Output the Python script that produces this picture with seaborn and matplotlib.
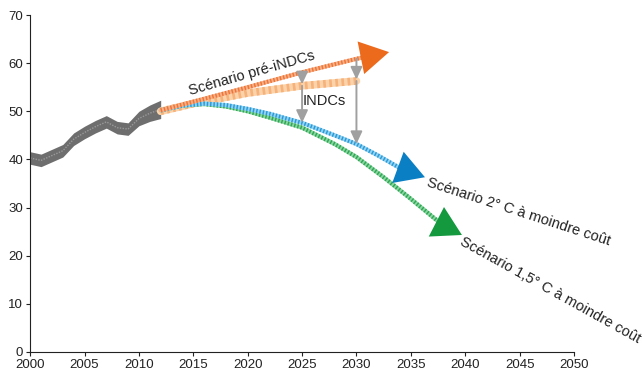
import numpy as np
import pandas as pd
import matplotlib.pyplot as plt
import seaborn as sns

sns.set_theme(style="ticks")
plt.rcParams['font.family'] = ['Liberation Sans', 'DejaVu Sans']

# historique
hist_years = list(range(2000, 2013))
hist_vals = [40.3, 39.8, 40.8, 41.8, 44.2, 45.6, 46.8, 47.8, 46.6, 46.3, 48.5, 49.6, 50.4]
hist_half_width = [1.3, 1.3, 1.3, 1.3, 1.3, 1.3, 1.3, 1.3, 1.3, 1.3, 1.5, 1.7, 1.9]

# scénarios (dernier point = pointe de la flèche)
pre_years = [2012, 2015, 2020, 2025, 2030, 2030.8, 2033.0]
pre_vals = [50.2, 52.0, 55.0, 58.1, 60.9, 61.3, 62.3]

indc_years = [2012, 2015, 2020, 2025, 2030]
indc_vals = [50.0, 51.6, 53.8, 55.3, 56.3]

c2_years = [2012, 2014, 2016, 2018, 2020, 2022, 2025, 2028, 2030, 2032, 2034.0, 2036.3]
c2_vals = [50.2, 51.2, 51.6, 51.3, 50.5, 49.5, 47.6, 45.0, 43.2, 40.8, 38.2, 36.3]

c15_years = [2012, 2014, 2016, 2018, 2020, 2022, 2025, 2028, 2030, 2032.5, 2035, 2037.9, 2039.7]
c15_vals = [50.2, 51.2, 51.5, 51.0, 50.0, 48.7, 46.6, 43.2, 40.5, 36.3, 31.8, 26.4, 24.3]

indc_steps = [2025, 2030]

fig, ax = plt.subplots(figsize=(6.42, 3.76), dpi=100)
fig.subplots_adjust(left=0.047, right=0.894, bottom=0.064, top=0.96)

# bande historique
hv = np.array(hist_vals)
hw = np.array(hist_half_width)
ax.fill_between(hist_years, hv - hw, hv + hw, color='#6e6e6e', lw=0)
sns.lineplot(x=hist_years, y=hist_vals, ax=ax, color='#9a9a9a', lw=1,
             linestyle=(0, (1, 1)))

# lignes de scénarios (effet hachuré)
series = [
    (indc_years, indc_vals, '#fbd3aa', '#f6b27a', 5.5, False),
    (c15_years, c15_vals, '#8ad6a0', '#2fa655', 3.0, True),
    (c2_years, c2_vals, '#95d3f2', '#2a9ad6', 3.0, True),
    (pre_years, pre_vals, '#f7b08a', '#ee7534', 3.0, True),
]
for xs, ys, light, dark, w, has_head in series:
    n = len(xs) - 1 if has_head else len(xs)
    sns.lineplot(x=xs[:n], y=ys[:n], ax=ax, color=light, lw=w, sort=False)
    sns.lineplot(x=xs[:n], y=ys[:n], ax=ax, color=dark, lw=w, sort=False,
                 linestyle=(0, (0.35, 0.45)))

# têtes de flèches
heads = [
    (pre_years, pre_vals, '#ec6a1c'),
    (c2_years, c2_vals, '#0a7fc4'),
    (c15_years, c15_vals, '#14993f'),
]
for xs, ys, col in heads:
    ax.annotate('', xy=(xs[-1], ys[-1]), xytext=(xs[-2], ys[-2]),
                arrowprops=dict(arrowstyle='-|>,head_length=0.9,head_width=0.52',
                                mutation_scale=23, color=col, lw=0,
                                shrinkA=0, shrinkB=0))

# flèches INDCs
for yr in indc_steps:
    top = pre_vals[pre_years.index(yr)]
    mid = indc_vals[indc_years.index(yr)]
    low = c2_vals[c2_years.index(yr)]
    for a, b in [(top, mid + 0.3), (mid, low)]:
        ax.annotate('', xy=(yr, b), xytext=(yr, a),
                    arrowprops=dict(arrowstyle='-|>,head_length=0.75,head_width=0.35',
                                    mutation_scale=10, color='#a0a0a0', lw=1.4,
                                    shrinkA=0, shrinkB=0))

fs = 10.5
ax.text(2020.4, 57.8, 'Scénario pré-iNDCs', rotation=16, ha='center', va='center',
        rotation_mode='anchor', fontsize=fs, color='#222222')
ax.text(2027.0, 52.2, 'INDCs', ha='center', va='center', fontsize=fs, color='#222222')
ax.text(2044.9, 29.1, 'Scénario 2° C à moindre coût', rotation=-18, ha='center',
        va='center', rotation_mode='anchor', fontsize=fs, color='#222222')
ax.text(2047.8, 12.8, 'Scénario 1,5° C à moindre coût', rotation=-29, ha='center',
        va='center', rotation_mode='anchor', fontsize=fs, color='#222222')

ax.set_xlim(2000, 2050)
ax.set_ylim(0, 70)
ax.set_xticks(range(2000, 2051, 5))
ax.set_yticks(range(0, 71, 10))
ax.tick_params(labelsize=9.5, length=3, width=0.8, colors='#222222', pad=2)
for s in ['left', 'bottom']:
    ax.spines[s].set_linewidth(0.8)
    ax.spines[s].set_color('#222222')
sns.despine(ax=ax)

fig.savefig('out.png', dpi=100)
